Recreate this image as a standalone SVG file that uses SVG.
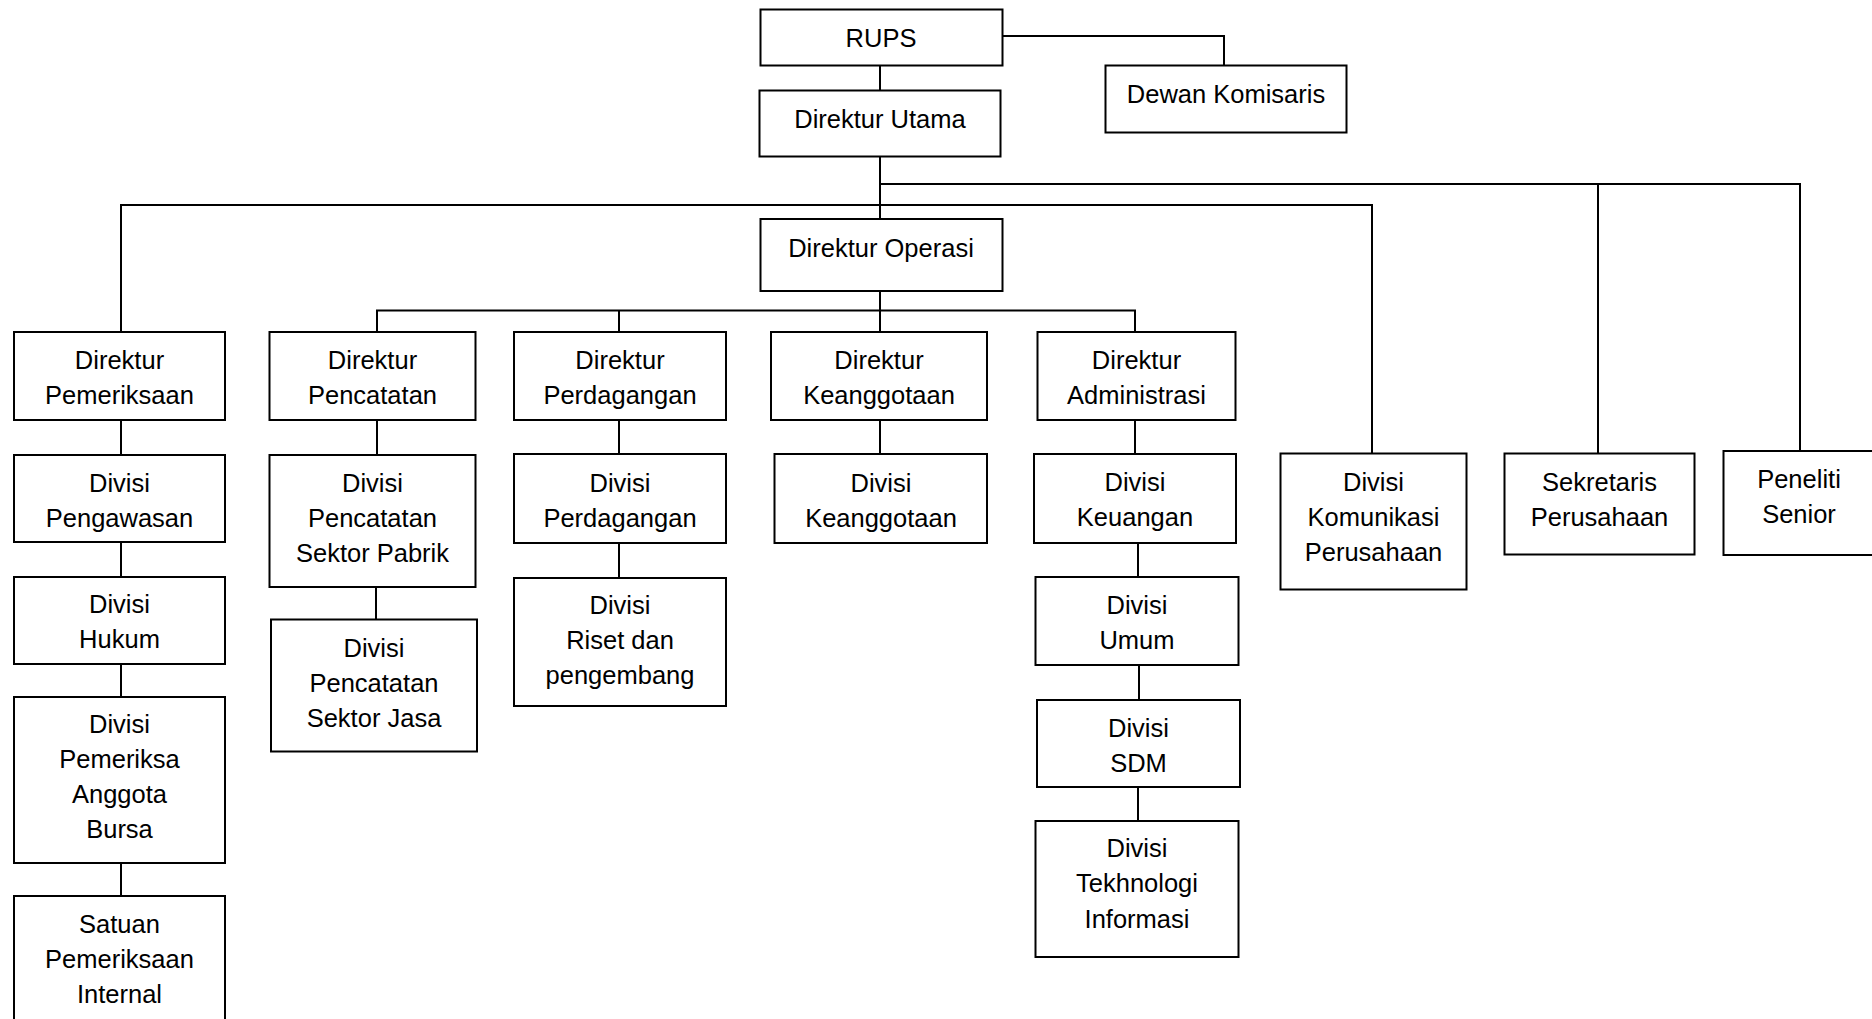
<svg xmlns="http://www.w3.org/2000/svg" width="1872" height="1019" viewBox="0 0 1872 1019">
<style>
.box{fill:#fff;stroke:#000;stroke-width:2}
.ln{fill:none;stroke:#000;stroke-width:2}
text{font-family:"Liberation Sans",Arial,sans-serif;font-size:25.5px;fill:#000;text-anchor:middle}
</style>
<rect width="1872" height="1019" fill="#fff"/>
<g id="connectors">
<polyline class="ln" points="1003,36 1224,36 1224,65"/>
<line class="ln" x1="880" y1="65" x2="880" y2="90"/>
<line class="ln" x1="880" y1="157" x2="880" y2="219"/>
<polyline class="ln" points="880,184 1800,184 1800,451"/>
<line class="ln" x1="1598" y1="184" x2="1598" y2="454"/>
<polyline class="ln" points="121,332 121,205 1372,205 1372,453"/>
<line class="ln" x1="880" y1="291" x2="880" y2="332"/>
<polyline class="ln" points="377,332 377,310.5 1135,310.5 1135,332"/>
<line class="ln" x1="619" y1="310.5" x2="619" y2="332"/>
<line class="ln" x1="121" y1="420" x2="121" y2="455"/>
<line class="ln" x1="121" y1="542" x2="121" y2="577"/>
<line class="ln" x1="121" y1="664" x2="121" y2="697"/>
<line class="ln" x1="121" y1="863" x2="121" y2="896"/>
<line class="ln" x1="377" y1="420" x2="377" y2="455"/>
<line class="ln" x1="376" y1="587" x2="376" y2="619"/>
<line class="ln" x1="619" y1="420" x2="619" y2="454"/>
<line class="ln" x1="619" y1="543" x2="619" y2="578"/>
<line class="ln" x1="880" y1="420" x2="880" y2="454"/>
<line class="ln" x1="1135" y1="420" x2="1135" y2="454"/>
<line class="ln" x1="1138" y1="543" x2="1138" y2="577"/>
<line class="ln" x1="1139" y1="665" x2="1139" y2="700"/>
<line class="ln" x1="1138" y1="787" x2="1138" y2="821"/>
</g>
<g id="rups"><rect class="box" x="760.5" y="9.5" width="242" height="56"/><text x="881" y="46.7">RUPS</text></g>
<g id="dewan-komisaris"><rect class="box" x="1105.5" y="65.5" width="241" height="67"/><text x="1226" y="102.7">Dewan Komisaris</text></g>
<g id="direktur-utama"><rect class="box" x="759.5" y="90.5" width="241" height="66"/><text x="880" y="127.7">Direktur Utama</text></g>
<g id="direktur-operasi"><rect class="box" x="760.5" y="219" width="242" height="72"/><text x="881" y="256.7">Direktur Operasi</text></g>
<g id="direktur-pemeriksaan"><rect class="box" x="14" y="332" width="211" height="88"/><text x="119.5" y="369.3">Direktur</text><text x="119.5" y="404">Pemeriksaan</text></g>
<g id="direktur-pencatatan"><rect class="box" x="269.5" y="332" width="206" height="88"/><text x="372.5" y="369.3">Direktur</text><text x="372.5" y="404">Pencatatan</text></g>
<g id="direktur-perdagangan"><rect class="box" x="514" y="332" width="212" height="88"/><text x="620" y="369.3">Direktur</text><text x="620" y="404">Perdagangan</text></g>
<g id="direktur-keanggotaan"><rect class="box" x="771" y="332" width="216" height="88"/><text x="879" y="369.3">Direktur</text><text x="879" y="404">Keanggotaan</text></g>
<g id="direktur-administrasi"><rect class="box" x="1037.5" y="332" width="198" height="88"/><text x="1136.5" y="368.7">Direktur</text><text x="1136.5" y="403.5">Administrasi</text></g>
<g id="divisi-komunikasi"><rect class="box" x="1280.5" y="453.5" width="186" height="136"/><text x="1373.5" y="490.7">Divisi</text><text x="1373.5" y="525.7">Komunikasi</text><text x="1373.5" y="560.5">Perusahaan</text></g>
<g id="sekretaris-perusahaan"><rect class="box" x="1504.5" y="453.5" width="190" height="101"/><text x="1599.5" y="490.7">Sekretaris</text><text x="1599.5" y="525.7">Perusahaan</text></g>
<g id="peneliti-senior"><rect class="box" x="1723.5" y="451" width="154" height="104"/><text x="1799" y="487.5">Peneliti</text><text x="1799" y="522.5">Senior</text></g>
<g id="divisi-pengawasan"><rect class="box" x="14" y="455" width="211" height="87"/><text x="119.5" y="491.7">Divisi</text><text x="119.5" y="526.7">Pengawasan</text></g>
<g id="divisi-hukum"><rect class="box" x="14" y="577" width="211" height="87"/><text x="119.5" y="613.3">Divisi</text><text x="119.5" y="648.3">Hukum</text></g>
<g id="divisi-pemeriksa-anggota-bursa"><rect class="box" x="14" y="697" width="211" height="166"/><text x="119.5" y="733.3">Divisi</text><text x="119.5" y="768.3">Pemeriksa</text><text x="119.5" y="803.3">Anggota</text><text x="119.5" y="838">Bursa</text></g>
<g id="satuan-pemeriksaan-internal"><rect class="box" x="14" y="896" width="211" height="140"/><text x="119.5" y="933.3">Satuan</text><text x="119.5" y="968">Pemeriksaan</text><text x="119.5" y="1002.7">Internal</text></g>
<g id="divisi-pencatatan-sektor-pabrik"><rect class="box" x="269.5" y="455" width="206" height="132"/><text x="372.5" y="491.7">Divisi</text><text x="372.5" y="526.7">Pencatatan</text><text x="372.5" y="561.7">Sektor Pabrik</text></g>
<g id="divisi-pencatatan-sektor-jasa"><rect class="box" x="271" y="619.5" width="206" height="132"/><text x="374" y="656.7">Divisi</text><text x="374" y="691.7">Pencatatan</text><text x="374" y="726.7">Sektor Jasa</text></g>
<g id="divisi-perdagangan"><rect class="box" x="514" y="454" width="212" height="89"/><text x="620" y="491.7">Divisi</text><text x="620" y="526.7">Perdagangan</text></g>
<g id="divisi-riset"><rect class="box" x="514" y="578" width="212" height="128"/><text x="620" y="614.3">Divisi</text><text x="620" y="649.3">Riset dan</text><text x="620" y="684">pengembang</text></g>
<g id="divisi-keanggotaan"><rect class="box" x="774.5" y="454" width="212.5" height="89"/><text x="881" y="491.7">Divisi</text><text x="881" y="526.7">Keanggotaan</text></g>
<g id="divisi-keuangan"><rect class="box" x="1034" y="454" width="202" height="89"/><text x="1135" y="490.7">Divisi</text><text x="1135" y="526">Keuangan</text></g>
<g id="divisi-umum"><rect class="box" x="1035.5" y="577" width="203" height="88"/><text x="1137" y="614">Divisi</text><text x="1137" y="649.3">Umum</text></g>
<g id="divisi-sdm"><rect class="box" x="1037" y="700" width="203" height="87"/><text x="1138.5" y="736.7">Divisi</text><text x="1138.5" y="771.7">SDM</text></g>
<g id="divisi-tekhnologi-informasi"><rect class="box" x="1035.5" y="821" width="203" height="136"/><text x="1137" y="856.7">Divisi</text><text x="1137" y="891.7">Tekhnologi</text><text x="1137" y="927.7">Informasi</text></g>
</svg>
